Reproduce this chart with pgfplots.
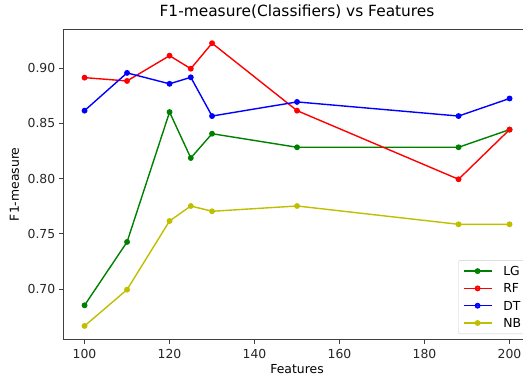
\documentclass[border=0pt]{standalone}
\usepackage{pgfplots}
\pgfplotsset{compat=1.18}
\usepackage{fontspec}
\setmainfont{DejaVu Sans}
\definecolor{mplgreen}{rgb}{0,0.5,0}
\definecolor{mplred}{rgb}{1,0,0}
\definecolor{mplblue}{rgb}{0,0,1}
\definecolor{mplyellow}{rgb}{0.75,0.75,0}
\begin{document}
\begin{tikzpicture}
\begin{axis}[
  scale only axis, width=467.5pt, height=310pt,
  xmin=95, xmax=205, ymin=0.6544, ymax=0.9353,
  xtick={100,120,140,160,180,200},
  ytick={0.70,0.75,0.80,0.85,0.90},
  yticklabel style={/pgf/number format/.cd, fixed, fixed zerofill, precision=2},
  /pgf/number format/assume math mode=true,
  tick align=outside, tick pos=left, major tick length=4.5pt,
  every tick/.style={black!75, line width=0.8pt},
  axis line style={black!75, line width=0.8pt},
  ticklabel style={font=\fontsize{12.4}{14}\selectfont, text=black!85},
  xticklabel style={anchor=base, yshift=-15pt},
  title={F1-measure(Classifiers) vs Features},
  title style={font=\fontsize{15.4}{18}\selectfont, at={(axis description cs:0.5,1.0213)}, anchor=base, inner sep=0pt},
  xlabel={Features}, ylabel={F1-measure},
  xlabel style={font=\fontsize{12.4}{14}\selectfont, at={(axis description cs:0.5,-0.1097)}, anchor=base, inner sep=0pt},
  ylabel style={font=\fontsize{12.4}{14}\selectfont, at={(axis description cs:-0.0948,0.5)}, anchor=base, inner sep=0pt},
  every axis plot/.append style={line width=1.4pt, mark=*, mark size=2.2pt},
  legend image code/.code={\draw[mark repeat=2,mark phase=2,#1] plot coordinates {(0pt,0pt) (14pt,0pt) (28pt,0pt)};},
  legend cell align=left,
  legend style={at={(axis description cs:0.8449,0.0171)}, anchor=south west,
    draw=black!20, rounded corners=2pt, fill=white, fill opacity=0.8, text opacity=1,
    font=\fontsize{12.4}{14}\selectfont, inner xsep=4.4pt, inner ysep=6.3pt,
    row sep=8.3pt,
    nodes={text height=9pt, text depth=0pt, inner xsep=0pt, inner ysep=0pt},
    /tikz/every odd column/.append style={column sep=11pt}},
]
\addplot[color=mplgreen, mark options={fill=mplgreen}] coordinates {
(100,0.6852) (110,0.7426) (120,0.8603) (125,0.8187) (130,0.8407) (150,0.8284) (188,0.8284) (200,0.8444)};
\addlegendentry{LG}
\addplot[color=mplred, mark options={fill=mplred}] coordinates {
(100,0.8915) (110,0.8885) (120,0.9114) (125,0.8996) (130,0.9227) (150,0.8616) (188,0.7994) (200,0.8444)};
\addlegendentry{RF}
\addplot[color=mplblue, mark options={fill=mplblue}] coordinates {
(100,0.8616) (110,0.8958) (120,0.8859) (125,0.8918) (130,0.8567) (150,0.8695) (188,0.8567) (200,0.8726)};
\addlegendentry{DT}
\addplot[color=mplyellow, mark options={fill=mplyellow}] coordinates {
(100,0.6665) (110,0.6994) (120,0.7616) (125,0.7752) (130,0.7704) (150,0.7752) (188,0.7586) (200,0.7586)};
\addlegendentry{NB}
\end{axis}
\pgfresetboundingbox
\path (-63.3pt,-36.7pt) rectangle (459.7pt,339.3pt);
\end{tikzpicture}
\end{document}
